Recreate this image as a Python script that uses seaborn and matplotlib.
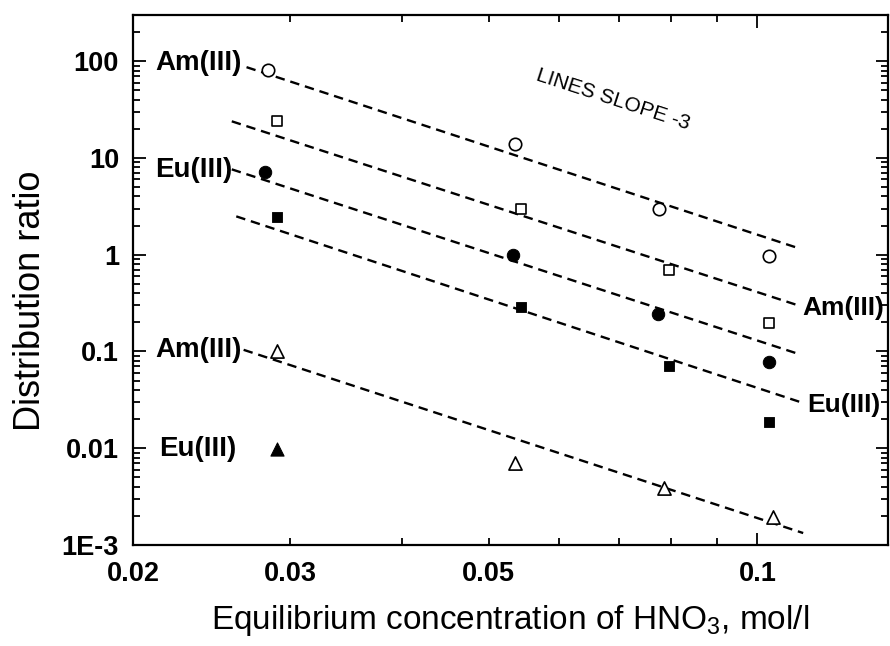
import matplotlib
matplotlib.use("Agg")
import matplotlib.pyplot as plt
import matplotlib.ticker as mticker
import seaborn as sns

# Distribution ratios vs equilibrium HNO3 concentration
am_open_circle_x = [0.0283, 0.0536, 0.0775, 0.103]
am_open_circle_y = [82, 14, 3.0, 0.98]

am_open_square_x = [0.029, 0.0544, 0.0796, 0.103]
am_open_square_y = [24, 3.0, 0.69, 0.195]

eu_filled_circle_x = [0.0281, 0.0533, 0.0773, 0.103]
eu_filled_circle_y = [7.1, 1.0, 0.246, 0.077]

eu_filled_square_x = [0.029, 0.0544, 0.0796, 0.103]
eu_filled_square_y = [2.43, 0.29, 0.07, 0.0188]

am_open_tri_x = [0.029, 0.0536, 0.0786, 0.104]
am_open_tri_y = [0.1, 0.0071, 0.0039, 0.00195]

eu_filled_tri_x = [0.029]
eu_filled_tri_y = [0.0099]

# slope -3 reference lines (start / end points)
line_x = [(0.0268, 0.1114), (0.0258, 0.1104), (0.0258, 0.1109),
          (0.0261, 0.1117), (0.0266, 0.1125)]
line_y = [(86.7, 1.16), (23.9, 0.305), (7.62, 0.095),
          (2.49, 0.030), (0.104, 0.00133)]

x_tick_vals = [0.02, 0.03, 0.05, 0.1]
x_tick_labels = ["0.02", "0.03", "0.05", "0.1"]
y_tick_vals = [1e-3, 1e-2, 1e-1, 1, 10, 100]
y_tick_labels = ["1E-3", "0.01", "0.1", "1", "10", "100"]

sns.set_style("ticks")
plt.rcParams["font.family"] = ["Liberation Sans", "DejaVu Sans"]
plt.rcParams["mathtext.default"] = "regular"
plt.rcParams["text.color"] = "black"
plt.rcParams["axes.labelcolor"] = "black"
plt.rcParams["xtick.color"] = "black"
plt.rcParams["ytick.color"] = "black"

fig = plt.figure(figsize=(8.9, 6.46), dpi=100)
ax = fig.add_axes([0.1494, 0.1563, 0.8484, 0.8205])

dash = (0, (4, 2.5))
for xs, ys in zip(line_x, line_y):
    sns.lineplot(x=list(xs), y=list(ys), ax=ax, color="black", lw=1.7,
                 linestyle=dash, sort=False)

sns.scatterplot(x=am_open_circle_x, y=am_open_circle_y, ax=ax, marker="o",
                s=80, facecolor="white", edgecolor="black", linewidth=1.2, zorder=3)
sns.scatterplot(x=am_open_square_x, y=am_open_square_y, ax=ax, marker="s",
                s=60, facecolor="white", edgecolor="black", linewidth=1.2, zorder=3)
sns.scatterplot(x=eu_filled_circle_x, y=eu_filled_circle_y, ax=ax, marker="o",
                s=80, color="black", edgecolor="black", zorder=3)
sns.scatterplot(x=eu_filled_square_x, y=eu_filled_square_y, ax=ax, marker="s",
                s=60, color="black", edgecolor="black", zorder=3)
sns.scatterplot(x=am_open_tri_x, y=am_open_tri_y, ax=ax, marker="^",
                s=90, facecolor="white", edgecolor="black", linewidth=1.2, zorder=3)
sns.scatterplot(x=eu_filled_tri_x, y=eu_filled_tri_y, ax=ax, marker="^",
                s=90, color="black", edgecolor="black", zorder=3)

ax.set_xscale("log")
ax.set_yscale("log")
ax.set_xlim(0.02, 0.14)
ax.set_ylim(1e-3, 300)

ax.set_xticks([0.1])
ax.set_xticklabels([""])
ax.xaxis.set_minor_locator(mticker.LogLocator(base=10, subs=range(2, 10)))
ax.xaxis.set_minor_formatter(mticker.NullFormatter())
for v, lab in zip(x_tick_vals, x_tick_labels):
    ax.text(v, -0.03, lab, transform=ax.get_xaxis_transform(), ha="center",
            va="top", fontsize=19.5, fontweight="bold")

ax.set_yticks(y_tick_vals)
ax.set_yticklabels(y_tick_labels)
ax.yaxis.set_minor_locator(mticker.LogLocator(base=10, subs=range(2, 10)))
ax.yaxis.set_minor_formatter(mticker.NullFormatter())

ax.tick_params(which="both", direction="in", top=True, right=True, width=1.3)
ax.tick_params(which="major", length=9, labelsize=19.5, pad=10)
ax.tick_params(which="minor", length=5)
for lab in ax.get_yticklabels():
    lab.set_fontweight("bold")
for sp in ax.spines.values():
    sp.set_linewidth(1.6)
    sp.set_color("black")

ax.set_xlabel("Equilibrium concentration of HNO$_3$, mol/l", fontsize=24, labelpad=32)
ax.set_ylabel("Distribution ratio", fontsize=26)
ax.yaxis.set_label_coords(-0.112, 0.46)

lab_kw = dict(transform=ax.transAxes, fontsize=20, fontweight="bold", va="center",
              clip_on=False)
ax.text(0.030, 0.909, "Am(III)", ha="left", **lab_kw)
ax.text(0.030, 0.708, "Eu(III)", ha="left", **lab_kw)
ax.text(0.030, 0.368, "Am(III)", ha="left", **lab_kw)
ax.text(0.034, 0.181, "Eu(III)", ha="left", **lab_kw)
right_kw = dict(lab_kw, fontsize=19)
ax.text(0.886, 0.447, "Am(III)", ha="left", **right_kw)
ax.text(0.893, 0.264, "Eu(III)", ha="left", **right_kw)

ax.text(0.636, 0.840, "LINES SLOPE -3", transform=ax.transAxes, fontsize=15,
        rotation=-18, ha="center", va="center")

fig.savefig("out.png", dpi=100)
